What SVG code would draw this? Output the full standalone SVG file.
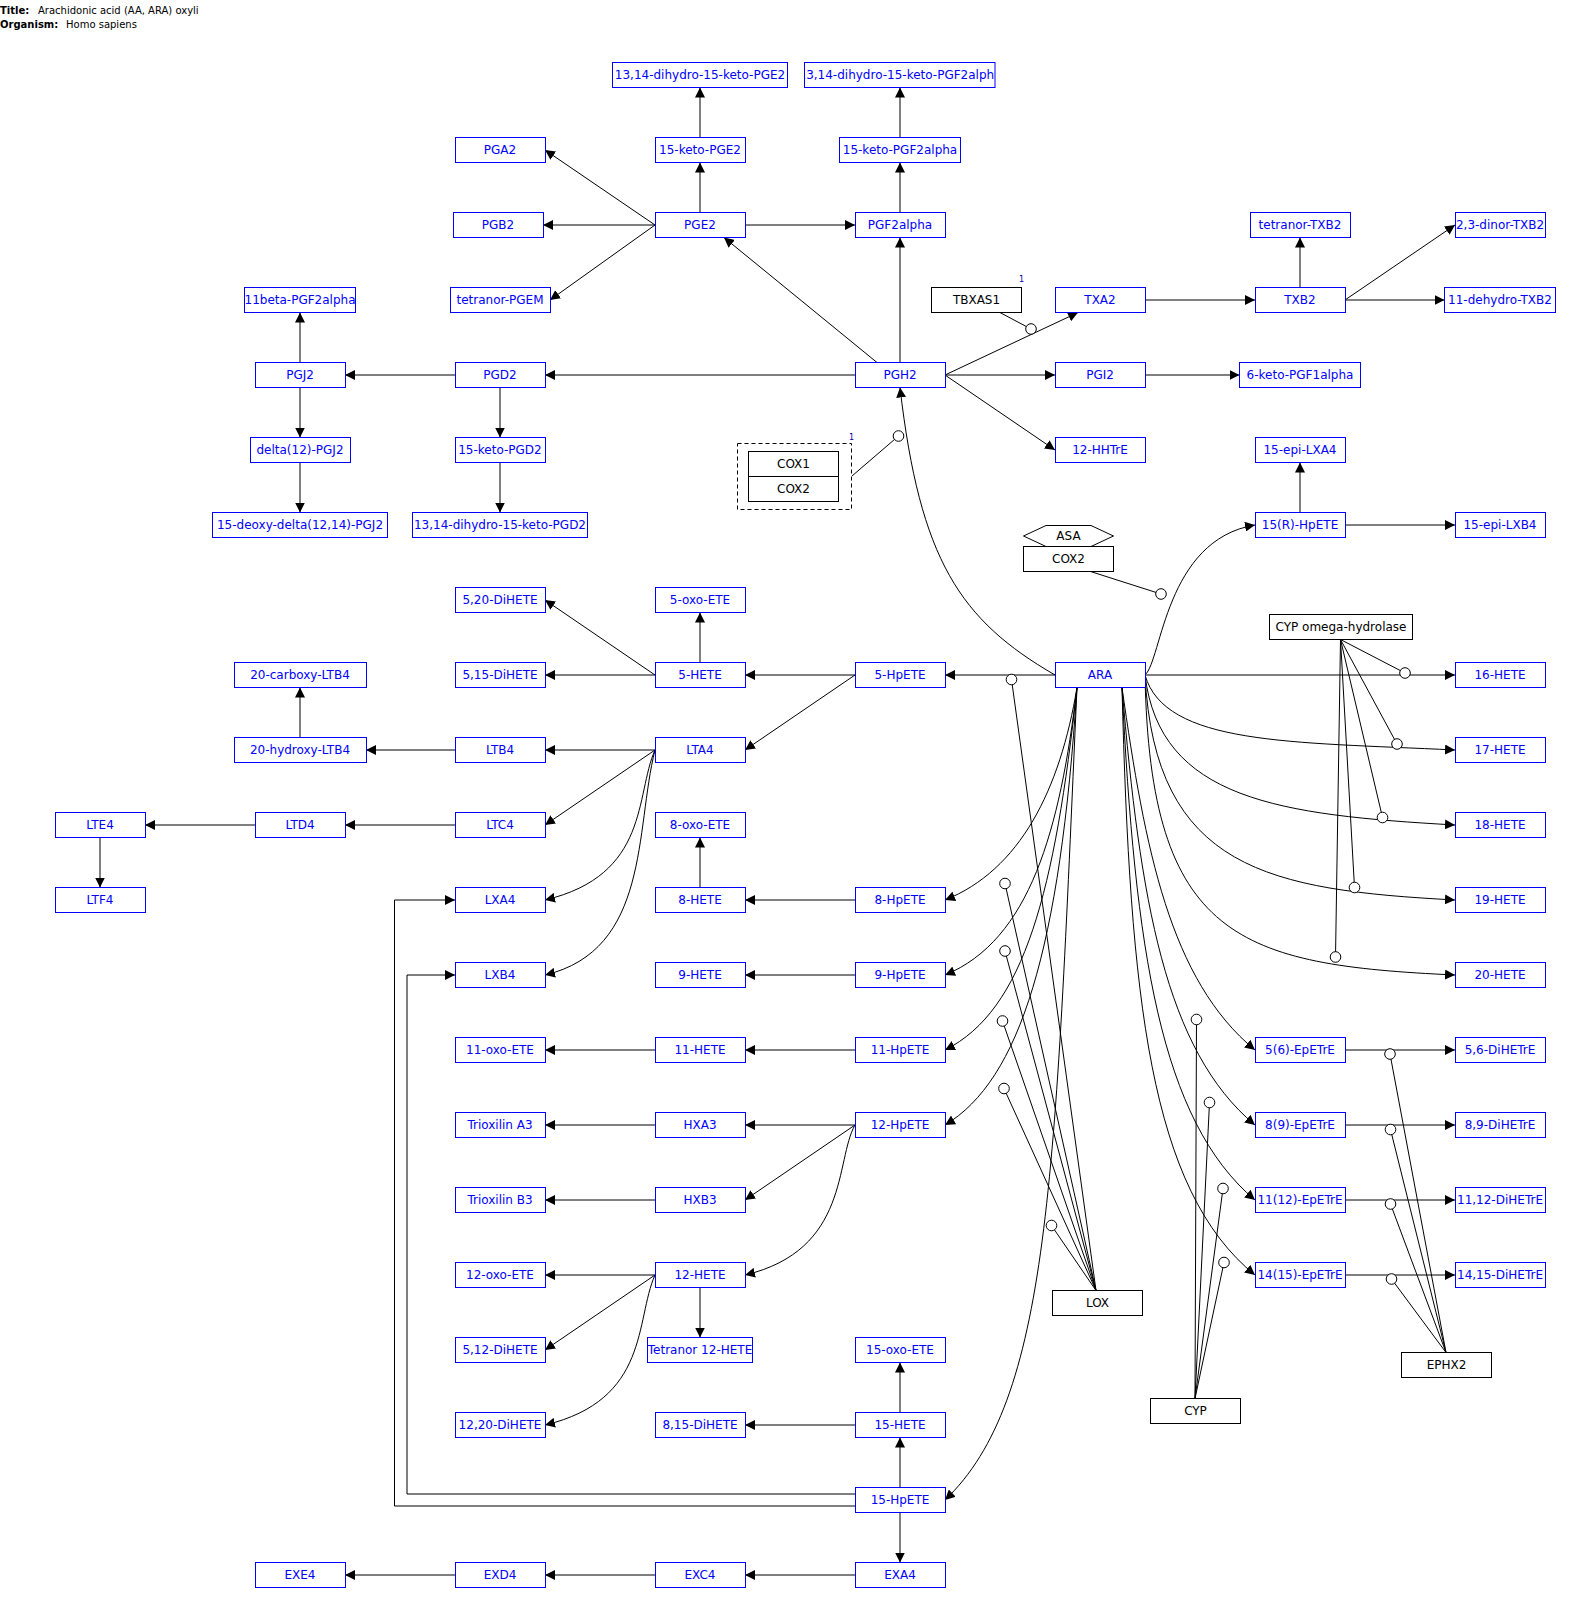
<svg xmlns="http://www.w3.org/2000/svg" width="1569" height="1602" viewBox="0 0 1569 1602">
<style>
.m{fill:#fff;stroke:#0000ff;stroke-width:1}
.t{fill:#0000ff;font-family:"DejaVu Sans",Verdana,sans-serif;font-size:12px;text-anchor:middle}
.k{fill:#fff;stroke:#000;stroke-width:1}
.kt{fill:#000;font-family:"DejaVu Sans",Verdana,sans-serif;font-size:12px;text-anchor:middle}
.l{fill:none;stroke:#000;stroke-width:1}
.a{marker-end:url(#arr)}
.c{fill:#fff;stroke:#000;stroke-width:1}
.hd{font-family:"DejaVu Sans",Verdana,sans-serif;font-size:10px;fill:#000}
.n1{font-family:"DejaVu Sans",Verdana,sans-serif;font-size:8px;fill:#0000aa}
</style>
<defs>
<marker id="arr" markerUnits="userSpaceOnUse" markerWidth="10" markerHeight="10" refX="10" refY="5" orient="auto"><path d="M0,0 L10,5 L0,10 z" fill="#000"/></marker>
<clipPath id="clipF"><rect x="805" y="62.5" width="189.5" height="25"/></clipPath>
</defs>
<rect width="1569" height="1602" fill="#fff"/>
<g id="header">
<text class="hd" x="0" y="13.5" font-weight="bold">Title:</text>
<text class="hd" x="38" y="13.5">Arachidonic acid (AA, ARA) oxyli</text>
<text class="hd" x="0" y="27.5" font-weight="bold">Organism:</text>
<text class="hd" x="66" y="27.5">Homo sapiens</text>
</g>

<g id="connectors">
<line class="l a" x1="700" y1="137.5" x2="700" y2="87.5"/>
<line class="l a" x1="900" y1="137.5" x2="900" y2="87.5"/>
<line class="l a" x1="700" y1="212.5" x2="700" y2="162.5"/>
<line class="l a" x1="900" y1="212.5" x2="900" y2="162.5"/>
<line class="l a" x1="655" y1="225" x2="545" y2="150"/>
<line class="l a" x1="655" y1="225" x2="543" y2="225"/>
<line class="l a" x1="655" y1="225" x2="550" y2="300"/>
<line class="l a" x1="745" y1="225" x2="855" y2="225"/>
<line class="l a" x1="877" y1="362.5" x2="724" y2="237.5"/>
<line class="l a" x1="900" y1="362.5" x2="900" y2="237.5"/>
<line class="l a" x1="945" y1="375" x2="1078" y2="312.5"/>
<line class="l a" x1="945" y1="375" x2="1055" y2="375"/>
<line class="l a" x1="945" y1="375" x2="1055" y2="450"/>
<line class="l a" x1="855" y1="375" x2="545" y2="375"/>
<line class="l a" x1="455" y1="375" x2="345" y2="375"/>
<line class="l a" x1="500" y1="387.5" x2="500" y2="437.5"/>
<line class="l a" x1="500" y1="462.5" x2="500" y2="512.5"/>
<line class="l a" x1="300" y1="362.5" x2="300" y2="312.5"/>
<line class="l a" x1="300" y1="387.5" x2="300" y2="437.5"/>
<line class="l a" x1="300" y1="462.5" x2="300" y2="512.5"/>
<line class="l a" x1="1145" y1="300" x2="1255" y2="300"/>
<line class="l a" x1="1300" y1="287.5" x2="1300" y2="237.5"/>
<line class="l a" x1="1345" y1="300" x2="1455" y2="225"/>
<line class="l a" x1="1345" y1="300" x2="1444.5" y2="300"/>
<line class="l a" x1="1145" y1="375" x2="1239.5" y2="375"/>
<line class="l a" x1="1300" y1="512.5" x2="1300" y2="462.5"/>
<line class="l a" x1="1345" y1="525" x2="1455" y2="525"/>
<path class="l a" d="M1145,675 C1162,660 1165,540 1255,525"/>
<path class="l a" d="M1055,675 C960,620 920,560 900,387.5"/>
<line class="l a" x1="1055" y1="675" x2="945" y2="675"/>
<line class="l a" x1="1145" y1="675" x2="1455" y2="675"/>
<path class="l a" d="M1145,675 C1165,745 1290,742 1455,750"/>
<path class="l a" d="M1145,675 C1160,800 1280,815 1455,825"/>
<path class="l a" d="M1145,675 C1155,870 1270,890 1455,900"/>
<path class="l a" d="M1145,675 C1150,940 1240,965 1455,975"/>
<line class="l a" x1="855" y1="675" x2="745" y2="675"/>
<line class="l a" x1="855" y1="675" x2="745" y2="750"/>
<line class="l a" x1="700" y1="662.5" x2="700" y2="612.5"/>
<line class="l a" x1="655" y1="675" x2="545" y2="600"/>
<line class="l a" x1="655" y1="675" x2="545" y2="675"/>
<line class="l a" x1="655" y1="750" x2="545" y2="750"/>
<line class="l a" x1="655" y1="750" x2="545" y2="825"/>
<path class="l a" d="M655,750 C635,795 650,875 545,900"/>
<path class="l a" d="M655,750 C635,830 650,950 545,975"/>
<line class="l a" x1="455" y1="750" x2="366" y2="750"/>
<line class="l a" x1="300" y1="737.5" x2="300" y2="687.5"/>
<line class="l a" x1="455" y1="825" x2="345" y2="825"/>
<line class="l a" x1="255" y1="825" x2="145" y2="825"/>
<line class="l a" x1="100" y1="837.5" x2="100" y2="887.5"/>
<line class="l a" x1="855" y1="900" x2="745" y2="900"/>
<line class="l a" x1="700" y1="887.5" x2="700" y2="837.5"/>
<line class="l a" x1="855" y1="975" x2="745" y2="975"/>
<line class="l a" x1="855" y1="1050" x2="745" y2="1050"/>
<line class="l a" x1="655" y1="1050" x2="545" y2="1050"/>
<line class="l a" x1="855" y1="1125" x2="745" y2="1125"/>
<line class="l a" x1="655" y1="1125" x2="545" y2="1125"/>
<line class="l a" x1="855" y1="1125" x2="745" y2="1200"/>
<line class="l a" x1="655" y1="1200" x2="545" y2="1200"/>
<path class="l a" d="M855,1125 C835,1160 850,1250 745,1275"/>
<line class="l a" x1="655" y1="1275" x2="545" y2="1275"/>
<line class="l a" x1="655" y1="1275" x2="545" y2="1350"/>
<path class="l a" d="M655,1275 C635,1320 650,1400 545,1425"/>
<line class="l a" x1="700" y1="1287.5" x2="700" y2="1337.5"/>
<line class="l a" x1="900" y1="1487.5" x2="900" y2="1437.5"/>
<line class="l a" x1="900" y1="1412.5" x2="900" y2="1362.5"/>
<line class="l a" x1="855" y1="1425" x2="745" y2="1425"/>
<line class="l a" x1="900" y1="1512.5" x2="900" y2="1562.5"/>
<line class="l a" x1="855" y1="1575" x2="745" y2="1575"/>
<line class="l a" x1="655" y1="1575" x2="545" y2="1575"/>
<line class="l a" x1="455" y1="1575" x2="345" y2="1575"/>
<polyline class="l a" points="855,1506 394.5,1506 394.5,900 455,900"/>
<polyline class="l a" points="855,1494 407,1494 407,975 455,975"/>
<path class="l a" d="M1077,687.5 C1060,790 1020,870 945,900"/>
<path class="l a" d="M1077,687.5 C1060,830 1030,940 945,975"/>
<path class="l a" d="M1077,687.5 C1055,890 1025,1010 945,1050"/>
<path class="l a" d="M1077,687.5 C1060,950 1020,1080 945,1125"/>
<path class="l a" d="M1077,687.5 C1055,1180 1050,1400 945,1500"/>
<path class="l a" d="M1122,687.5 C1145,850 1170,980 1255,1050"/>
<path class="l a" d="M1122,687.5 C1140,900 1165,1050 1255,1125"/>
<path class="l a" d="M1122,687.5 C1135,950 1160,1120 1255,1200"/>
<path class="l a" d="M1122,687.5 C1130,1000 1150,1190 1255,1275"/>
<line class="l a" x1="1345" y1="1050" x2="1455" y2="1050"/>
<line class="l a" x1="1345" y1="1125" x2="1455" y2="1125"/>
<line class="l a" x1="1345" y1="1200" x2="1455" y2="1200"/>
<line class="l a" x1="1345" y1="1275" x2="1455" y2="1275"/>
<!-- catalysis -->
<line class="l" x1="999" y1="312" x2="1031" y2="329"/>
<line class="l" x1="852" y1="476" x2="898.5" y2="436"/>
<line class="l" x1="1090.5" y1="571.5" x2="1161" y2="594"/>
<line class="l" x1="1340.5" y1="639.5" x2="1405" y2="673"/>
<line class="l" x1="1340.5" y1="639.5" x2="1397" y2="744"/>
<line class="l" x1="1340.5" y1="639.5" x2="1382.5" y2="817.5"/>
<line class="l" x1="1340.5" y1="639.5" x2="1354.5" y2="887.5"/>
<line class="l" x1="1340.5" y1="639.5" x2="1335.5" y2="957"/>
<line class="l" x1="1096" y1="1290.5" x2="1011.5" y2="679.5"/>
<line class="l" x1="1096" y1="1290.5" x2="1005" y2="883.5"/>
<line class="l" x1="1096" y1="1290.5" x2="1005" y2="951"/>
<line class="l" x1="1096" y1="1290.5" x2="1002.5" y2="1021"/>
<line class="l" x1="1096" y1="1290.5" x2="1004" y2="1088.5"/>
<line class="l" x1="1096" y1="1290.5" x2="1051.5" y2="1225.5"/>
<line class="l" x1="1195" y1="1398.5" x2="1196.5" y2="1019.5"/>
<line class="l" x1="1195" y1="1398.5" x2="1209.5" y2="1102.5"/>
<line class="l" x1="1195" y1="1398.5" x2="1223" y2="1188.5"/>
<line class="l" x1="1195" y1="1398.5" x2="1224" y2="1262.5"/>
<line class="l" x1="1446" y1="1352.5" x2="1390" y2="1054"/>
<line class="l" x1="1446" y1="1352.5" x2="1390.5" y2="1129.5"/>
<line class="l" x1="1446" y1="1352.5" x2="1390.5" y2="1204"/>
<line class="l" x1="1446" y1="1352.5" x2="1391.5" y2="1279"/>
<circle class="c" cx="1031" cy="329" r="5.3"/>
<circle class="c" cx="898.5" cy="436" r="5.3"/>
<circle class="c" cx="1161" cy="594" r="5.3"/>
<circle class="c" cx="1405" cy="673" r="5.3"/>
<circle class="c" cx="1397" cy="744" r="5.3"/>
<circle class="c" cx="1382.5" cy="817.5" r="5.3"/>
<circle class="c" cx="1354.5" cy="887.5" r="5.3"/>
<circle class="c" cx="1335.5" cy="957" r="5.3"/>
<circle class="c" cx="1011.5" cy="679.5" r="5.3"/>
<circle class="c" cx="1005" cy="883.5" r="5.3"/>
<circle class="c" cx="1005" cy="951" r="5.3"/>
<circle class="c" cx="1002.5" cy="1021" r="5.3"/>
<circle class="c" cx="1004" cy="1088.5" r="5.3"/>
<circle class="c" cx="1051.5" cy="1225.5" r="5.3"/>
<circle class="c" cx="1196.5" cy="1019.5" r="5.3"/>
<circle class="c" cx="1209.5" cy="1102.5" r="5.3"/>
<circle class="c" cx="1223" cy="1188.5" r="5.3"/>
<circle class="c" cx="1224" cy="1262.5" r="5.3"/>
<circle class="c" cx="1390" cy="1054" r="5.3"/>
<circle class="c" cx="1390.5" cy="1129.5" r="5.3"/>
<circle class="c" cx="1390.5" cy="1204" r="5.3"/>
<circle class="c" cx="1391.5" cy="1279" r="5.3"/>
</g>

<!-- metabolites -->
<g id="dhk-PGE2"><rect class="m" x="612.5" y="62.5" width="175" height="25"/><text class="t" x="700" y="79.2">13,14-dihydro-15-keto-PGE2</text></g>
<g id="dhk-PGF2alpha"><rect class="m" x="804.5" y="62.5" width="190.5" height="25"/><text class="t" x="900" y="79.2" clip-path="url(#clipF)">13,14-dihydro-15-keto-PGF2alpha</text></g>
<g id="PGA2"><rect class="m" x="455.5" y="137.5" width="90" height="25"/><text class="t" x="500" y="154.2">PGA2</text></g>
<g id="k-PGE2"><rect class="m" x="655.5" y="137.5" width="90" height="25"/><text class="t" x="700" y="154.2">15-keto-PGE2</text></g>
<g id="k-PGF2alpha"><rect class="m" x="839.5" y="137.5" width="121" height="25"/><text class="t" x="900" y="154.2">15-keto-PGF2alpha</text></g>
<g id="PGB2"><rect class="m" x="453.5" y="212.5" width="90" height="25"/><text class="t" x="498" y="229.2">PGB2</text></g>
<g id="PGE2"><rect class="m" x="655.5" y="212.5" width="90" height="25"/><text class="t" x="700" y="229.2">PGE2</text></g>
<g id="PGF2alpha"><rect class="m" x="855.5" y="212.5" width="90" height="25"/><text class="t" x="900" y="229.2">PGF2alpha</text></g>
<g id="tetranor-TXB2"><rect class="m" x="1250.5" y="212.5" width="100" height="25"/><text class="t" x="1300" y="229.2">tetranor-TXB2</text></g>
<g id="dinor-TXB2"><rect class="m" x="1455.5" y="212.5" width="90" height="25"/><text class="t" x="1500" y="229.2">2,3-dinor-TXB2</text></g>
<g id="b11-PGF2alpha"><rect class="m" x="244.5" y="287.5" width="111" height="25"/><text class="t" x="300" y="304.2">11beta-PGF2alpha</text></g>
<g id="tetranor-PGEM"><rect class="m" x="450.5" y="287.5" width="100" height="25"/><text class="t" x="500" y="304.2">tetranor-PGEM</text></g>
<g id="TXA2"><rect class="m" x="1055.5" y="287.5" width="90" height="25"/><text class="t" x="1100" y="304.2">TXA2</text></g>
<g id="TXB2"><rect class="m" x="1255.5" y="287.5" width="90" height="25"/><text class="t" x="1300" y="304.2">TXB2</text></g>
<g id="dehydro-TXB2"><rect class="m" x="1444.5" y="287.5" width="111" height="25"/><text class="t" x="1500" y="304.2">11-dehydro-TXB2</text></g>
<g id="PGJ2"><rect class="m" x="255.5" y="362.5" width="90" height="25"/><text class="t" x="300" y="379.2">PGJ2</text></g>
<g id="PGD2"><rect class="m" x="455.5" y="362.5" width="90" height="25"/><text class="t" x="500" y="379.2">PGD2</text></g>
<g id="PGH2"><rect class="m" x="855.5" y="362.5" width="90" height="25"/><text class="t" x="900" y="379.2">PGH2</text></g>
<g id="PGI2"><rect class="m" x="1055.5" y="362.5" width="90" height="25"/><text class="t" x="1100" y="379.2">PGI2</text></g>
<g id="k-PGF1alpha"><rect class="m" x="1239.5" y="362.5" width="121" height="25"/><text class="t" x="1300" y="379.2">6-keto-PGF1alpha</text></g>
<g id="d12-PGJ2"><rect class="m" x="250.5" y="437.5" width="100" height="25"/><text class="t" x="300" y="454.2">delta(12)-PGJ2</text></g>
<g id="k-PGD2"><rect class="m" x="455.5" y="437.5" width="90" height="25"/><text class="t" x="500" y="454.2">15-keto-PGD2</text></g>
<g id="HHTrE"><rect class="m" x="1055.5" y="437.5" width="90" height="25"/><text class="t" x="1100" y="454.2">12-HHTrE</text></g>
<g id="epi-LXA4"><rect class="m" x="1255.5" y="437.5" width="90" height="25"/><text class="t" x="1300" y="454.2">15-epi-LXA4</text></g>
<g id="deoxy-PGJ2"><rect class="m" x="212.5" y="512.5" width="175" height="25"/><text class="t" x="300" y="529.2">15-deoxy-delta(12,14)-PGJ2</text></g>
<g id="dhk-PGD2"><rect class="m" x="412.5" y="512.5" width="175" height="25"/><text class="t" x="500" y="529.2">13,14-dihydro-15-keto-PGD2</text></g>
<g id="R-HpETE15"><rect class="m" x="1255.5" y="512.5" width="90" height="25"/><text class="t" x="1300" y="529.2">15(R)-HpETE</text></g>
<g id="epi-LXB4"><rect class="m" x="1455.5" y="512.5" width="90" height="25"/><text class="t" x="1500" y="529.2">15-epi-LXB4</text></g>
<g id="DiHETE520"><rect class="m" x="455.5" y="587.5" width="90" height="25"/><text class="t" x="500" y="604.2">5,20-DiHETE</text></g>
<g id="oxoETE5"><rect class="m" x="655.5" y="587.5" width="90" height="25"/><text class="t" x="700" y="604.2">5-oxo-ETE</text></g>
<g id="carboxy-LTB4"><rect class="m" x="234.5" y="662.5" width="132" height="25"/><text class="t" x="300" y="679.2">20-carboxy-LTB4</text></g>
<g id="DiHETE515"><rect class="m" x="455.5" y="662.5" width="90" height="25"/><text class="t" x="500" y="679.2">5,15-DiHETE</text></g>
<g id="HETE5"><rect class="m" x="655.5" y="662.5" width="90" height="25"/><text class="t" x="700" y="679.2">5-HETE</text></g>
<g id="HpETE5"><rect class="m" x="855.5" y="662.5" width="90" height="25"/><text class="t" x="900" y="679.2">5-HpETE</text></g>
<g id="ARA"><rect class="m" x="1055.5" y="662.5" width="90" height="25"/><text class="t" x="1100" y="679.2">ARA</text></g>
<g id="HETE16"><rect class="m" x="1455.5" y="662.5" width="90" height="25"/><text class="t" x="1500" y="679.2">16-HETE</text></g>
<g id="hydroxy-LTB4"><rect class="m" x="234.5" y="737.5" width="132" height="25"/><text class="t" x="300" y="754.2">20-hydroxy-LTB4</text></g>
<g id="LTB4"><rect class="m" x="455.5" y="737.5" width="90" height="25"/><text class="t" x="500" y="754.2">LTB4</text></g>
<g id="LTA4"><rect class="m" x="655.5" y="737.5" width="90" height="25"/><text class="t" x="700" y="754.2">LTA4</text></g>
<g id="HETE17"><rect class="m" x="1455.5" y="737.5" width="90" height="25"/><text class="t" x="1500" y="754.2">17-HETE</text></g>
<g id="LTE4"><rect class="m" x="55.5" y="812.5" width="90" height="25"/><text class="t" x="100" y="829.2">LTE4</text></g>
<g id="LTD4"><rect class="m" x="255.5" y="812.5" width="90" height="25"/><text class="t" x="300" y="829.2">LTD4</text></g>
<g id="LTC4"><rect class="m" x="455.5" y="812.5" width="90" height="25"/><text class="t" x="500" y="829.2">LTC4</text></g>
<g id="oxoETE8"><rect class="m" x="655.5" y="812.5" width="90" height="25"/><text class="t" x="700" y="829.2">8-oxo-ETE</text></g>
<g id="HETE18"><rect class="m" x="1455.5" y="812.5" width="90" height="25"/><text class="t" x="1500" y="829.2">18-HETE</text></g>
<g id="LTF4"><rect class="m" x="55.5" y="887.5" width="90" height="25"/><text class="t" x="100" y="904.2">LTF4</text></g>
<g id="LXA4"><rect class="m" x="455.5" y="887.5" width="90" height="25"/><text class="t" x="500" y="904.2">LXA4</text></g>
<g id="HETE8"><rect class="m" x="655.5" y="887.5" width="90" height="25"/><text class="t" x="700" y="904.2">8-HETE</text></g>
<g id="HpETE8"><rect class="m" x="855.5" y="887.5" width="90" height="25"/><text class="t" x="900" y="904.2">8-HpETE</text></g>
<g id="HETE19"><rect class="m" x="1455.5" y="887.5" width="90" height="25"/><text class="t" x="1500" y="904.2">19-HETE</text></g>
<g id="LXB4"><rect class="m" x="455.5" y="962.5" width="90" height="25"/><text class="t" x="500" y="979.2">LXB4</text></g>
<g id="HETE9"><rect class="m" x="655.5" y="962.5" width="90" height="25"/><text class="t" x="700" y="979.2">9-HETE</text></g>
<g id="HpETE9"><rect class="m" x="855.5" y="962.5" width="90" height="25"/><text class="t" x="900" y="979.2">9-HpETE</text></g>
<g id="HETE20"><rect class="m" x="1455.5" y="962.5" width="90" height="25"/><text class="t" x="1500" y="979.2">20-HETE</text></g>
<g id="oxoETE11"><rect class="m" x="455.5" y="1037.5" width="90" height="25"/><text class="t" x="500" y="1054.2">11-oxo-ETE</text></g>
<g id="HETE11"><rect class="m" x="655.5" y="1037.5" width="90" height="25"/><text class="t" x="700" y="1054.2">11-HETE</text></g>
<g id="HpETE11"><rect class="m" x="855.5" y="1037.5" width="90" height="25"/><text class="t" x="900" y="1054.2">11-HpETE</text></g>
<g id="EpETrE56"><rect class="m" x="1255.5" y="1037.5" width="90" height="25"/><text class="t" x="1300" y="1054.2">5(6)-EpETrE</text></g>
<g id="DiHETrE56"><rect class="m" x="1455.5" y="1037.5" width="90" height="25"/><text class="t" x="1500" y="1054.2">5,6-DiHETrE</text></g>
<g id="TrioxilinA3"><rect class="m" x="455.5" y="1112.5" width="90" height="25"/><text class="t" x="500" y="1129.2">Trioxilin A3</text></g>
<g id="HXA3"><rect class="m" x="655.5" y="1112.5" width="90" height="25"/><text class="t" x="700" y="1129.2">HXA3</text></g>
<g id="HpETE12"><rect class="m" x="855.5" y="1112.5" width="90" height="25"/><text class="t" x="900" y="1129.2">12-HpETE</text></g>
<g id="EpETrE89"><rect class="m" x="1255.5" y="1112.5" width="90" height="25"/><text class="t" x="1300" y="1129.2">8(9)-EpETrE</text></g>
<g id="DiHETrE89"><rect class="m" x="1455.5" y="1112.5" width="90" height="25"/><text class="t" x="1500" y="1129.2">8,9-DiHETrE</text></g>
<g id="TrioxilinB3"><rect class="m" x="455.5" y="1187.5" width="90" height="25"/><text class="t" x="500" y="1204.2">Trioxilin B3</text></g>
<g id="HXB3"><rect class="m" x="655.5" y="1187.5" width="90" height="25"/><text class="t" x="700" y="1204.2">HXB3</text></g>
<g id="EpETrE1112"><rect class="m" x="1255.5" y="1187.5" width="90" height="25"/><text class="t" x="1300" y="1204.2">11(12)-EpETrE</text></g>
<g id="DiHETrE1112"><rect class="m" x="1455.5" y="1187.5" width="90" height="25"/><text class="t" x="1500" y="1204.2">11,12-DiHETrE</text></g>
<g id="oxoETE12"><rect class="m" x="455.5" y="1262.5" width="90" height="25"/><text class="t" x="500" y="1279.2">12-oxo-ETE</text></g>
<g id="HETE12"><rect class="m" x="655.5" y="1262.5" width="90" height="25"/><text class="t" x="700" y="1279.2">12-HETE</text></g>
<g id="EpETrE1415"><rect class="m" x="1255.5" y="1262.5" width="90" height="25"/><text class="t" x="1300" y="1279.2">14(15)-EpETrE</text></g>
<g id="DiHETrE1415"><rect class="m" x="1455.5" y="1262.5" width="90" height="25"/><text class="t" x="1500" y="1279.2">14,15-DiHETrE</text></g>
<g id="DiHETE512"><rect class="m" x="455.5" y="1337.5" width="90" height="25"/><text class="t" x="500" y="1354.2">5,12-DiHETE</text></g>
<g id="Tetranor12HETE"><rect class="m" x="647.5" y="1337.5" width="105" height="25"/><text class="t" x="700" y="1354.2">Tetranor 12-HETE</text></g>
<g id="oxoETE15"><rect class="m" x="855.5" y="1337.5" width="90" height="25"/><text class="t" x="900" y="1354.2">15-oxo-ETE</text></g>
<g id="DiHETE1220"><rect class="m" x="455.5" y="1412.5" width="90" height="25"/><text class="t" x="500" y="1429.2">12,20-DiHETE</text></g>
<g id="DiHETE815"><rect class="m" x="655.5" y="1412.5" width="90" height="25"/><text class="t" x="700" y="1429.2">8,15-DiHETE</text></g>
<g id="HETE15"><rect class="m" x="855.5" y="1412.5" width="90" height="25"/><text class="t" x="900" y="1429.2">15-HETE</text></g>
<g id="HpETE15"><rect class="m" x="855.5" y="1487.5" width="90" height="25"/><text class="t" x="900" y="1504.2">15-HpETE</text></g>
<g id="EXE4"><rect class="m" x="255.5" y="1562.5" width="90" height="25"/><text class="t" x="300" y="1579.2">EXE4</text></g>
<g id="EXD4"><rect class="m" x="455.5" y="1562.5" width="90" height="25"/><text class="t" x="500" y="1579.2">EXD4</text></g>
<g id="EXC4"><rect class="m" x="655.5" y="1562.5" width="90" height="25"/><text class="t" x="700" y="1579.2">EXC4</text></g>
<g id="EXA4"><rect class="m" x="855.5" y="1562.5" width="90" height="25"/><text class="t" x="900" y="1579.2">EXA4</text></g>

<!-- gene products -->
<g id="TBXAS1"><rect class="k" x="931.5" y="287.5" width="90" height="25"/><text class="kt" x="976.5" y="304.2">TBXAS1</text><text class="n1" x="1019" y="282">1</text></g>
<g id="COX-group"><rect x="737.5" y="443.5" width="114" height="66" fill="none" stroke="#000" stroke-dasharray="4,3"/><text class="n1" x="849" y="440">1</text>
<g id="COX1"><rect class="k" x="748.5" y="451.5" width="90" height="25"/><text class="kt" x="793.5" y="468.2">COX1</text></g>
<g id="COX2a"><rect class="k" x="748.5" y="476.5" width="90" height="25"/><text class="kt" x="793.5" y="493.2">COX2</text></g></g>
<g id="ASA"><polygon class="k" points="1023.5,536 1046,525.5 1091,525.5 1113.5,536 1091,546.5 1046,546.5"/><text class="kt" x="1068.5" y="540.2">ASA</text></g>
<g id="COX2b"><rect class="k" x="1023.5" y="546.5" width="90" height="25"/><text class="kt" x="1068.5" y="563.2">COX2</text></g>
<g id="CYPomega"><rect class="k" x="1269.5" y="614.5" width="143" height="25"/><text class="kt" x="1341" y="631.2">CYP omega-hydrolase</text></g>
<g id="LOX"><rect class="k" x="1052.5" y="1290.5" width="90" height="25"/><text class="kt" x="1097.5" y="1307.2">LOX</text></g>
<g id="CYP"><rect class="k" x="1150.5" y="1398.5" width="90" height="25"/><text class="kt" x="1195.5" y="1415.2">CYP</text></g>
<g id="EPHX2"><rect class="k" x="1401.5" y="1352.5" width="90" height="25"/><text class="kt" x="1446.5" y="1369.2">EPHX2</text></g>
</svg>
